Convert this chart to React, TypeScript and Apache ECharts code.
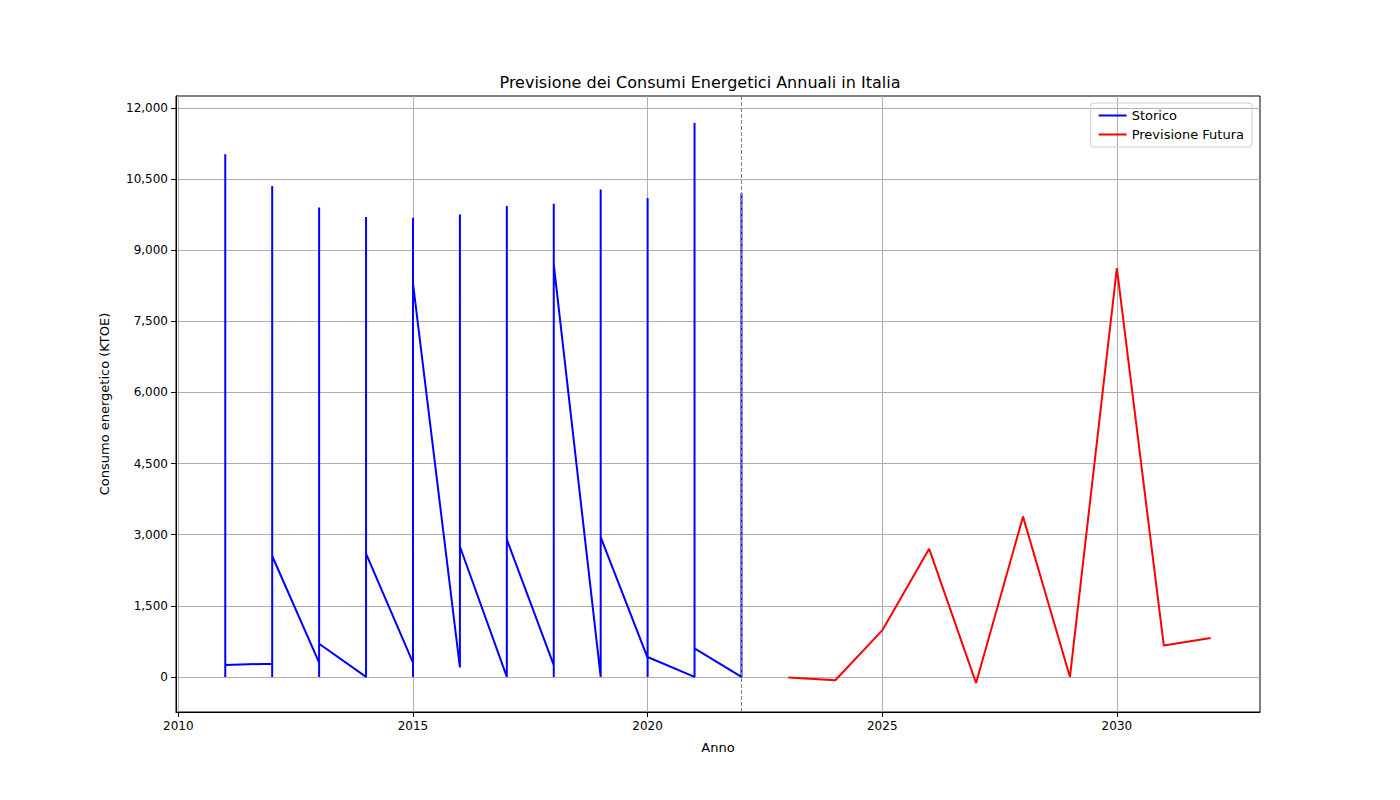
import React, { useEffect, useRef } from 'react';
import * as echarts from 'echarts';

// historical data: one block of points per year (all plotted at the same x)
const years = [2011, 2012, 2013, 2014, 2015, 2016, 2017, 2018, 2019, 2020, 2021, 2022];
const yearValues: number[][] = [
  [0, 11000, 3500, 1000, 2400, 11020, 250],
  [280, 0, 10350, 3300, 0, 9000, 2550],
  [300, 0, 9900, 0, 8800, 700],
  [0, 9700, 50, 2600],
  [300, 0, 9680, 2700, 8300],
  [200, 9750, 400, 2750],
  [0, 9930, 100, 2000, 2900],
  [250, 0, 9980, 8700],
  [0, 10280, 0, 2950],
  [400, 0, 10100, 420],
  [0, 11680, 600],
  [0, 10200, 3100, 0],
];

const forecastYears = [2023, 2024, 2025, 2026, 2027, 2028, 2029, 2030, 2031, 2032];
const forecastValues = [-10, -70, 980, 2700, -130, 3380, 0, 8620, 660, 820];

const yTicks = [0, 1500, 3000, 4500, 6000, 7500, 9000, 10500, 12000];
const xTicks = [2010, 2015, 2020, 2025, 2030];

const App: React.FC = () => {
  const chartRef = useRef<HTMLDivElement>(null);

  useEffect(() => {
    document.body.style.margin = '0';
    if (!chartRef.current) return;
    const chart = echarts.init(chartRef.current, null, { renderer: 'svg' });

    const history: number[][] = [];
    years.forEach((y, i) => yearValues[i].forEach((v) => history.push([y, v])));
    const forecast = forecastYears.map((y, i) => [y, forecastValues[i]]);

    const font = 'DejaVu Sans';
    chart.setOption({
      animation: false,
      textStyle: { fontFamily: font },
      title: {
        text: 'Previsione dei Consumi Energetici Annuali in Italia',
        left: 'center',
        top: 69,
        textStyle: { fontFamily: font, fontSize: 16, fontWeight: 'normal', color: '#000' },
      },
      legend: {
        orient: 'vertical',
        right: 148,
        top: 103,
        itemWidth: 28,
        itemHeight: 2,
        itemGap: 6,
        padding: [6, 8],
        borderColor: '#ccc',
        borderWidth: 1,
        borderRadius: 3,
        icon: 'rect',
        textStyle: { fontFamily: font, fontSize: 13, color: '#000' },
        data: ['Storico', 'Previsione Futura'],
      },
      grid: { left: 176, right: 140, top: 96, bottom: 88, show: true, borderColor: '#000', borderWidth: 1 },
      xAxis: {
        type: 'value',
        min: 2009.95,
        max: 2033.05,
        name: 'Anno',
        nameLocation: 'middle',
        nameGap: 29,
        nameTextStyle: { fontFamily: font, fontSize: 13, color: '#000' },
        axisLine: { onZero: false, lineStyle: { color: '#000' } },
        axisTick: { customValues: xTicks, lineStyle: { color: '#000' } },
        axisLabel: { customValues: xTicks, color: '#000', fontSize: 12, formatter: (v: number) => String(v) },
        splitLine: { show: true, lineStyle: { color: '#b0b0b0' } },
      },
      yAxis: {
        type: 'value',
        min: -740,
        max: 12250,
        name: 'Consumo energetico (KTOE)',
        nameLocation: 'middle',
        nameGap: 65,
        nameTextStyle: { fontFamily: font, fontSize: 13, color: '#000' },
        axisLine: { show: true, lineStyle: { color: '#000' } },
        axisTick: { show: true, customValues: yTicks, lineStyle: { color: '#000' } },
        axisLabel: {
          customValues: yTicks,
          color: '#000',
          fontSize: 12,
          formatter: (v: number) => v.toLocaleString('en-US'),
        },
        splitLine: { show: true, lineStyle: { color: '#b0b0b0' } },
      },
      series: [
        {
          name: 'Storico',
          type: 'line',
          data: history,
          showSymbol: false,
          lineStyle: { color: '#0000ff', width: 2 },
          itemStyle: { color: '#0000ff' },
          markLine: {
            symbol: 'none',
            silent: true,
            label: { show: false },
            lineStyle: { color: '#808080', type: 'dashed', width: 1 },
            data: [{ xAxis: 2022 }],
          },
        },
        {
          name: 'Previsione Futura',
          type: 'line',
          data: forecast,
          showSymbol: false,
          lineStyle: { color: '#ff0000', width: 2 },
          itemStyle: { color: '#ff0000' },
        },
      ],
    });

    return () => chart.dispose();
  }, []);

  return <div ref={chartRef} style={{ width: 1400, height: 800 }} />;
};

export default App;
